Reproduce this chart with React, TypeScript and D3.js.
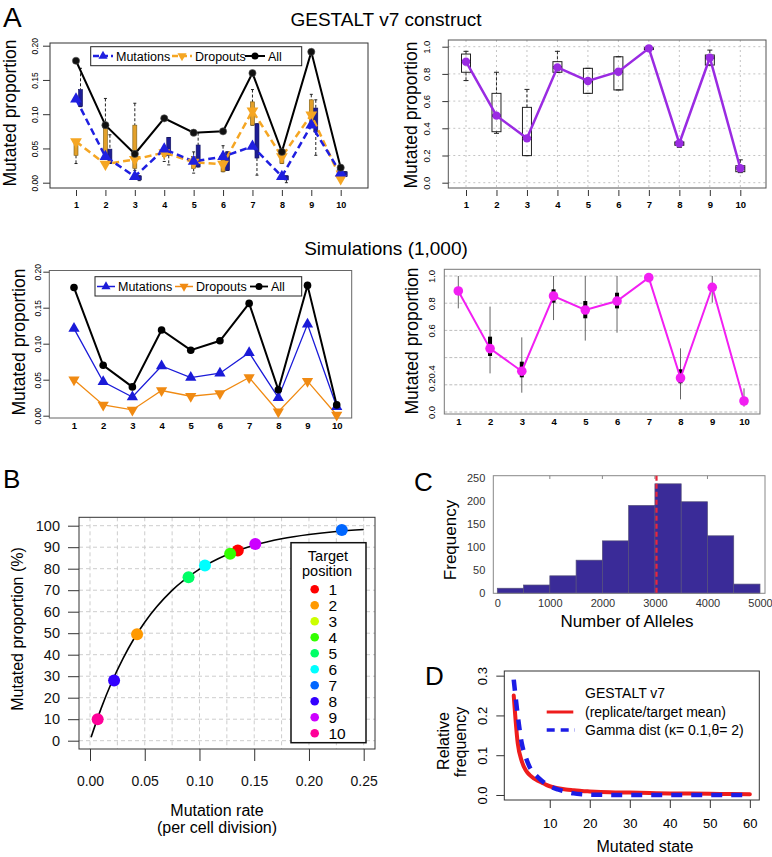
import React, { useEffect, useRef } from "react";
import * as d3 from "d3";

const FONT = "'Liberation Sans', Arial, Helvetica, sans-serif";

const targets = [1, 2, 3, 4, 5, 6, 7, 8, 9, 10];

// A, GESTALT v7 construct: mutated proportion split into mutations / dropouts
const gestaltAll = [0.178, 0.084, 0.042, 0.094, 0.073, 0.075, 0.16, 0.045, 0.191, 0.022];
const gestaltMut = [0.122, 0.038, 0.009, 0.049, 0.031, 0.038, 0.053, 0.009, 0.084, 0.014];
const gestaltDrop = [0.06, 0.027, 0.034, 0.044, 0.03, 0.027, 0.105, 0.038, 0.099, 0.006];
// boxes as [low whisker, q1, q3, high whisker]
const gestaltDropBox = [
  [0.028, 0.04, 0.062, 0.062], [0.027, 0.038, 0.084, 0.123], [0.018, 0.021, 0.084, 0.116],
  [0.031, 0.038, 0.045, 0.045], [0.014, 0.021, 0.038, 0.045], [0.016, 0.016, 0.033, 0.054],
  [0.084, 0.084, 0.118, 0.136], [0.028, 0.028, 0.04, 0.04], [0.087, 0.087, 0.121, 0.129],
  [0.009, 0.011, 0.018, 0.018],
];
const gestaltMutBox = [
  [0.111, 0.111, 0.136, 0.167], [0.028, 0.028, 0.049, 0.07], [0.003, 0.004, 0.01, 0.01],
  [0.026, 0.04, 0.066, 0.066], [0.023, 0.023, 0.055, 0.073], [0.018, 0.018, 0.045, 0.045],
  [0.011, 0.036, 0.086, 0.086], [0.0, 0.004, 0.01, 0.01], [0.04, 0.074, 0.109, 0.121],
  [0.009, 0.009, 0.016, 0.016],
];

// A, GESTALT total mutated proportion per target
const gestaltTotal = [0.89, 0.493, 0.326, 0.848, 0.748, 0.816, 0.988, 0.29, 0.919, 0.106];
const gestaltTotalBox = [
  [0.751, 0.812, 0.946, 0.966], [0.363, 0.375, 0.657, 0.812], [0.199, 0.199, 0.554, 0.686],
  [0.812, 0.812, 0.89, 0.966], [0.657, 0.657, 0.841, 0.841], [0.682, 0.682, 0.926, 0.926],
  [0.98, 0.98, 0.99, 0.99], [0.26, 0.275, 0.3, 0.3], [0.865, 0.865, 0.939, 0.975],
  [0.074, 0.081, 0.125, 0.168],
];

// A, simulations (1,000)
const simAll = [0.178, 0.07, 0.04, 0.119, 0.091, 0.104, 0.156, 0.036, 0.181, 0.015];
const simMut = [0.121, 0.047, 0.026, 0.069, 0.053, 0.059, 0.0875, 0.025, 0.127, 0.0125];
const simDrop = [0.05, 0.015, 0.008, 0.035, 0.027, 0.031, 0.053, 0.0056, 0.048, 0.001];

const simTotal = [0.89, 0.466, 0.3, 0.853, 0.75, 0.816, 0.988, 0.25, 0.917, 0.081];
const simLo = [0.762, 0.284, 0.142, 0.676, 0.525, 0.583, 0.98, 0.093, 0.804, 0.039];
const simHi = [1.0, 0.775, 0.549, 1.0, 1.0, 1.0, 0.995, 0.468, 1.0, 0.174];
const simQ1 = [0.86, 0.412, 0.255, 0.804, 0.689, 0.762, 0.982, 0.211, 0.9, 0.07];
const simQ3 = [0.917, 0.554, 0.37, 0.902, 0.816, 0.877, 0.993, 0.314, 0.93, 0.09];

// B
const targetRate = [0.135, 0.043, null, 0.128, 0.09, 0.105, 0.23, 0.022, 0.151, 0.007];
const targetProp = [88.5, 49.5, null, 87, 76, 81.5, 98, 28, 91.5, 10];
const targetColors = ["#FF0000", "#FF9900", "#CCFF00", "#33FF00", "#00FF66", "#00FFFF", "#0066FF", "#3300FF", "#CC00FF", "#FF0099"];
const curveRate = [0.001, 0.01, 0.02, 0.03, 0.04, 0.05, 0.075, 0.1, 0.125, 0.15, 0.175, 0.2, 0.225, 0.25];
const curveProp = [1.6, 14.8, 27.4, 38.1, 47.3, 55.1, 69.9, 79.8, 86.5, 90.9, 93.9, 95.9, 97.3, 98.2];

// C
const binStarts = [0, 500, 1000, 1500, 2000, 2500, 3000, 3500, 4000, 4500];
const binCounts = [11, 18, 38, 72, 114, 191, 238, 199, 125, 20];
const meanAlleles = 3030;

// D
const stateX = [1, 2, 3, 4, 5, 6, 7, 8, 9, 10, 12, 14, 16, 18, 20, 25, 30, 35, 40, 45, 50, 55, 60];
const gestaltFreq = [0.25, 0.13, 0.085, 0.062, 0.05, 0.042, 0.036, 0.031, 0.026, 0.022, 0.017, 0.014, 0.012, 0.01, 0.009, 0.007, 0.006, 0.005, 0.004, 0.0035, 0.003, 0.0025, 0.002];
const gammaFreq = [0.29, 0.2, 0.13, 0.095, 0.07, 0.055, 0.045, 0.036, 0.028, 0.022, 0.014, 0.008, 0.004, 0.002, 0.001, 0.0003, 0, 0, 0, 0, 0, 0, 0];

function txt(g, x, y, s, size, opts: any = {}) {
  return g.append("text").attr("x", x).attr("y", y).attr("font-size", size)
    .attr("text-anchor", opts.anchor || "start").attr("font-weight", opts.weight || "normal")
    .attr("fill", opts.fill || "#000").text(s);
}

function rotText(g, x, y, s, size, fill = "#000") {
  return g.append("text").attr("transform", `translate(${x},${y}) rotate(-90)`)
    .attr("text-anchor", "middle").attr("dy", "0.35em").attr("font-size", size)
    .attr("fill", fill).text(s);
}

function frame(g, x0, y0, x1, y1, stroke = "#333") {
  g.append("rect").attr("x", x0).attr("y", y0).attr("width", x1 - x0).attr("height", y1 - y0)
    .attr("fill", "none").attr("stroke", stroke).attr("stroke-width", 1);
}

function yAxisRot(g, y, values, xEdge, labelX, fmt, size, tick = 6, color = "#000") {
  const ax = g.append("g").attr("transform", `translate(${xEdge},0)`)
    .call(d3.axisLeft(y).tickValues(values).tickSize(tick).tickFormat(fmt));
  ax.select(".domain").remove();
  ax.attr("font-family", FONT).attr("font-size", size);
  ax.selectAll("line").attr("stroke", "#333");
  ax.selectAll("text").attr("x", null).attr("dy", "0.35em").attr("fill", color)
    .attr("text-anchor", "middle")
    .attr("transform", `translate(${labelX - xEdge},0) rotate(-90)`);
  return ax;
}

function xAxis(g, x, values, yEdge, labelY, size, tick, fmt, weight = "normal", color = "#000") {
  const ax = g.append("g").attr("transform", `translate(0,${yEdge})`)
    .call(d3.axisBottom(x).tickValues(values).tickSize(tick).tickFormat(fmt));
  ax.select(".domain").remove();
  ax.attr("font-family", FONT).attr("font-size", size);
  ax.selectAll("line").attr("stroke", "#333");
  ax.selectAll("text").attr("y", labelY - yEdge).attr("dy", null)
    .attr("font-weight", weight).attr("fill", color);
  return ax;
}

function legendRow(g, x0, y0, items, lineLen, size) {
  items.forEach((it) => {
    g.append("line").attr("x1", it.x).attr("x2", it.x + lineLen).attr("y1", y0).attr("y2", y0)
      .attr("stroke", it.color).attr("stroke-width", it.width).attr("stroke-dasharray", it.dash || null);
    const cx = it.x + lineLen / 2;
    if (it.shape === "circle") {
      g.append("circle").attr("cx", cx).attr("cy", y0).attr("r", 3.5).attr("fill", it.color);
    } else {
      g.append("path").attr("d", d3.symbol(d3.symbolTriangle, 36)())
        .attr("transform", `translate(${cx},${y0}) rotate(${it.shape === "down" ? 180 : 0})`)
        .attr("fill", it.color);
    }
    txt(g, it.x + lineLen + 3, y0 + 4.5, it.label, size);
  });
}

function drawTopLeft(svg) {
  const g = svg.append("g");
  const x = d3.scaleLinear().domain([1, 10]).range([76, 340.7]);
  const y = d3.scaleLinear().domain([0, 0.2]).range([182.7, 45.7]);
  frame(g, 50, 43, 368, 188);
  yAxisRot(g, y, [0, 0.05, 0.1, 0.15, 0.2], 50, 35, d3.format(".2f"), 8.5, 7);
  xAxis(g, x, targets, 190, 208, 9, 6, d3.format("d"), "bold");
  rotText(g, 10, 113, "Mutated proportion", 17.5);

  const bw = 4;
  const drawBoxes = (boxes, dx, fill, stroke) => {
    boxes.forEach((b, i) => {
      const cx = x(targets[i]) + dx;
      const [lo, q1, q3, hi] = b;
      g.append("line").attr("x1", cx).attr("x2", cx).attr("y1", y(hi)).attr("y2", y(q3))
        .attr("stroke", "#222").attr("stroke-dasharray", "3,2");
      g.append("line").attr("x1", cx).attr("x2", cx).attr("y1", y(q1)).attr("y2", y(lo))
        .attr("stroke", "#222").attr("stroke-dasharray", "3,2");
      [lo, hi].forEach((v) => g.append("line").attr("x1", cx - 1.5).attr("x2", cx + 1.5)
        .attr("y1", y(v)).attr("y2", y(v)).attr("stroke", "#222"));
      g.append("rect").attr("x", cx - bw / 2).attr("y", y(q3)).attr("width", bw)
        .attr("height", Math.max(1.5, y(q1) - y(q3))).attr("fill", fill).attr("stroke", stroke).attr("stroke-width", 0.6);
    });
  };
  drawBoxes(gestaltDropBox, 0, "#e3a02a", "#7a5a10");
  drawBoxes(gestaltMutBox, 4.5, "#1d1d96", "#10105a");

  const line = (vals) => d3.line<number>().x((_, i) => x(targets[i])).y((d) => y(d))(vals);
  g.append("path").attr("d", line(gestaltDrop)).attr("fill", "none").attr("stroke", "#f5a623")
    .attr("stroke-width", 2.5).attr("stroke-dasharray", "7,4");
  g.append("path").attr("d", line(gestaltMut)).attr("fill", "none").attr("stroke", "#1f1fe0")
    .attr("stroke-width", 2.5).attr("stroke-dasharray", "7,4");
  g.append("path").attr("d", line(gestaltAll)).attr("fill", "none").attr("stroke", "#000").attr("stroke-width", 2);

  gestaltDrop.forEach((v, i) => g.append("path").attr("d", d3.symbol(d3.symbolTriangle, 60)())
    .attr("transform", `translate(${x(targets[i])},${y(v)}) rotate(180)`).attr("fill", "#f5a623"));
  gestaltMut.forEach((v, i) => g.append("path").attr("d", d3.symbol(d3.symbolTriangle, 60)())
    .attr("transform", `translate(${x(targets[i])},${y(v)})`).attr("fill", "#1f1fe0"));
  gestaltAll.forEach((v, i) => g.append("circle").attr("cx", x(targets[i])).attr("cy", y(v))
    .attr("r", 3.6).attr("fill", "#111").attr("stroke", "#555").attr("stroke-width", 0.6));

  g.append("rect").attr("x", 90.7).attr("y", 46.7).attr("width", 211).attr("height", 19)
    .attr("fill", "#fff").attr("stroke", "#222");
  legendRow(g, 0, 56, [
    { x: 93, label: "Mutations", color: "#1f1fe0", width: 2.5, dash: "6,3", shape: "up" },
    { x: 172, label: "Dropouts", color: "#f5a623", width: 2.5, dash: "6,3", shape: "down" },
    { x: 245, label: "All", color: "#000", width: 2, shape: "circle" },
  ], 20, 12.5);
}

function drawTopRight(svg) {
  const g = svg.append("g");
  const x = d3.scaleLinear().domain([1, 10]).range([466, 740.3]);
  const y = d3.scaleLinear().domain([0, 1]).range([182.7, 46.7]);
  const yt = [0, 0.2, 0.4, 0.6, 0.8, 1.0];
  yt.forEach((v) => g.append("line").attr("x1", 448.3).attr("x2", 766).attr("y1", y(v)).attr("y2", y(v))
    .attr("stroke", "#c4c4c4").attr("stroke-dasharray", "2,3"));
  targets.forEach((t) => g.append("line").attr("x1", x(t)).attr("x2", x(t)).attr("y1", 40).attr("y2", 188)
    .attr("stroke", "#c4c4c4").attr("stroke-dasharray", "2,3"));
  frame(g, 448.3, 40, 766, 188, "#555");
  yAxisRot(g, y, yt, 448.3, 427, d3.format(".1f"), 9.5, 6);
  xAxis(g, x, targets, 190, 208, 9.5, 6, d3.format("d"), "bold");
  rotText(g, 411, 115, "Mutated proportion", 17.5);

  gestaltTotalBox.forEach((b, i) => {
    const cx = x(targets[i]);
    const [lo, q1, q3, hi] = b;
    g.append("line").attr("x1", cx).attr("x2", cx).attr("y1", y(hi)).attr("y2", y(q3))
      .attr("stroke", "#222").attr("stroke-dasharray", "3,2");
    g.append("line").attr("x1", cx).attr("x2", cx).attr("y1", y(q1)).attr("y2", y(lo))
      .attr("stroke", "#222").attr("stroke-dasharray", "3,2");
    [lo, hi].forEach((v) => g.append("line").attr("x1", cx - 2.5).attr("x2", cx + 2.5)
      .attr("y1", y(v)).attr("y2", y(v)).attr("stroke", "#222"));
    g.append("rect").attr("x", cx - 4.5).attr("y", y(q3)).attr("width", 9)
      .attr("height", Math.max(1.5, y(q1) - y(q3))).attr("fill", "none").attr("stroke", "#222").attr("stroke-width", 1);
    g.append("line").attr("x1", cx - 4.5).attr("x2", cx + 4.5).attr("y1", y(gestaltTotal[i])).attr("y2", y(gestaltTotal[i]))
      .attr("stroke", "#111").attr("stroke-width", 2.5);
  });
  const line = d3.line<number>().x((_, i) => x(targets[i])).y((d) => y(d));
  g.append("path").attr("d", line(gestaltTotal)).attr("fill", "none").attr("stroke", "#9a2be2").attr("stroke-width", 2.5);
  gestaltTotal.forEach((v, i) => g.append("circle").attr("cx", x(targets[i])).attr("cy", y(v)).attr("r", 4.2)
    .attr("fill", "#9a2be2"));
}

function drawMidLeft(svg) {
  const g = svg.append("g");
  const x = d3.scaleLinear().domain([1, 10]).range([74, 336.7]);
  const y = d3.scaleLinear().domain([0, 0.2]).range([415.7, 271.7]);
  frame(g, 49.3, 270.5, 351.7, 418, "#666");
  yAxisRot(g, y, [0, 0.05, 0.1, 0.15, 0.2], 49.3, 38.5, d3.format(".2f"), 8.5, 6);
  xAxis(g, x, targets, 418, 429, 9.5, 0, d3.format("d"), "bold");
  rotText(g, 19, 342, "Mutated proportion", 17.5);

  const line = d3.line<number>().x((_, i) => x(targets[i])).y((d) => y(d));
  g.append("path").attr("d", line(simDrop)).attr("fill", "none").attr("stroke", "#f08a12").attr("stroke-width", 1.3);
  g.append("path").attr("d", line(simMut)).attr("fill", "none").attr("stroke", "#1a1ad8").attr("stroke-width", 1.3);
  g.append("path").attr("d", line(simAll)).attr("fill", "none").attr("stroke", "#000").attr("stroke-width", 2);
  simDrop.forEach((v, i) => g.append("path").attr("d", d3.symbol(d3.symbolTriangle, 55)())
    .attr("transform", `translate(${x(targets[i])},${y(v)}) rotate(180)`).attr("fill", "#f08a12"));
  simMut.forEach((v, i) => g.append("path").attr("d", d3.symbol(d3.symbolTriangle, 55)())
    .attr("transform", `translate(${x(targets[i])},${y(v)})`).attr("fill", "#1a1ad8"));
  simAll.forEach((v, i) => g.append("circle").attr("cx", x(targets[i])).attr("cy", y(v)).attr("r", 3.8).attr("fill", "#000"));

  g.append("rect").attr("x", 95).attr("y", 276.7).attr("width", 206.7).attr("height", 19.3)
    .attr("fill", "#fff").attr("stroke", "#222");
  legendRow(g, 0, 286.5, [
    { x: 97, label: "Mutations", color: "#1a1ad8", width: 1.5, shape: "up" },
    { x: 175, label: "Dropouts", color: "#f08a12", width: 1.5, shape: "down" },
    { x: 250, label: "All", color: "#000", width: 1.8, shape: "circle" },
  ], 18, 12.5);
}

function drawMidRight(svg) {
  const g = svg.append("g");
  const x = d3.scaleLinear().domain([1, 10]).range([458.3, 744]);
  const y = d3.scaleLinear().domain([0, 1]).range([412, 276]);
  const yt = [0, 0.2, 0.4, 0.6, 0.8, 1.0];
  yt.forEach((v) => g.append("line").attr("x1", 444.3).attr("x2", 760).attr("y1", y(v)).attr("y2", y(v))
    .attr("stroke", "#bdbdbd").attr("stroke-dasharray", "3,2"));
  frame(g, 444.3, 269.3, 760, 414, "#777");
  const labels = (v) => (v === 0.4 ? "" : v === 0.2 ? "0.20.4" : d3.format(".1f")(v));
  const ax = yAxisRot(g, y, yt, 444.3, 432, labels, 9.5, 0);
  ax.selectAll("text").filter((d) => d === 0.2).attr("transform", `translate(${432 - 444.3},${y(0.25) - y(0.2)}) rotate(-90)`);
  xAxis(g, x, targets, 414, 425, 9.5, 0, d3.format("d"), "bold");
  rotText(g, 412, 341, "Mutated proportion", 17.5);

  targets.forEach((t, i) => {
    const cx = x(t);
    g.append("line").attr("x1", cx).attr("x2", cx).attr("y1", y(simHi[i])).attr("y2", y(simLo[i]))
      .attr("stroke", "#666").attr("stroke-width", 1);
    g.append("rect").attr("x", cx - 2).attr("y", y(simQ3[i])).attr("width", 4)
      .attr("height", y(simQ1[i]) - y(simQ3[i])).attr("fill", "#000");
  });
  const line = d3.line<number>().x((_, i) => x(targets[i])).y((d) => y(d));
  g.append("path").attr("d", line(simTotal)).attr("fill", "none").attr("stroke", "#f21ff2").attr("stroke-width", 2);
  simTotal.forEach((v, i) => g.append("circle").attr("cx", x(targets[i])).attr("cy", y(v)).attr("r", 4.8).attr("fill", "#f21ff2"));
}

function drawB(svg) {
  const g = svg.append("g");
  const x = d3.scaleLinear().domain([0, 0.25]).range([90, 363.7]);
  const y = d3.scaleLinear().domain([0, 100]).range([740.7, 525.7]);
  const x0 = 79, x1 = 375, y0 = 517.3, y1 = 749;
  d3.range(0, 0.2501, 0.025).forEach((v) => g.append("line").attr("x1", x(v)).attr("x2", x(v)).attr("y1", y0).attr("y2", y1)
    .attr("stroke", "#cdcdcd").attr("stroke-dasharray", "4,3"));
  d3.range(0, 101, 10).forEach((v) => g.append("line").attr("x1", x0).attr("x2", x1).attr("y1", y(v)).attr("y2", y(v))
    .attr("stroke", "#cdcdcd").attr("stroke-dasharray", "4,3"));
  frame(g, x0, y0, x1, y1, "#333");

  const ay = g.append("g").attr("transform", `translate(${x0},0)`)
    .call(d3.axisLeft(y).tickValues(d3.range(0, 101, 10)).tickSize(11).tickPadding(8).tickFormat(d3.format("d")));
  ay.select(".domain").remove();
  ay.attr("font-family", FONT).attr("font-size", 14.5);
  ay.selectAll("text").attr("fill", "#111");
  ay.selectAll("line").attr("stroke", "#333");
  const axx = xAxis(g, x, [0, 0.05, 0.1, 0.15, 0.2, 0.25], y1, 786, 14, 12, d3.format(".2f"), "normal", "#111");
  axx.selectAll("line").attr("stroke", "#333");

  rotText(g, 17, 629, "Mutated proportion (%)", 16);
  txt(g, 217, 816, "Mutation rate", 16, { anchor: "middle" });
  txt(g, 217, 833, "(per cell division)", 16, { anchor: "middle" });

  const line = d3.line<number>().x((d) => x(d)).y((_, i) => y(curveProp[i])).curve(d3.curveMonotoneX);
  g.append("path").attr("d", line(curveRate)).attr("fill", "none").attr("stroke", "#000").attr("stroke-width", 1.6);

  targets.forEach((t, i) => {
    if (targetRate[i] == null) return;
    g.append("circle").attr("cx", x(targetRate[i])).attr("cy", y(targetProp[i])).attr("r", 6).attr("fill", targetColors[i]);
  });

  g.append("rect").attr("x", 291).attr("y", 542.7).attr("width", 75).attr("height", 200)
    .attr("fill", "#fff").attr("stroke", "#111").attr("stroke-width", 1.5);
  txt(g, 328, 561, "Target", 14.5, { anchor: "middle" });
  txt(g, 327, 575.5, "position", 14.5, { anchor: "middle" });
  const ly = d3.scalePoint<number>().domain(targets).range([589.3, 733.3]);
  targets.forEach((t, i) => {
    g.append("circle").attr("cx", 314.7).attr("cy", ly(t)).attr("r", 4.3).attr("fill", targetColors[i]);
    txt(g, 328.5, ly(t) + 5.5, String(t), 15.5);
  });
}

function drawC(svg) {
  const g = svg.append("g");
  const x = d3.scaleLinear().domain([0, 5000]).range([497.3, 760]);
  const y = d3.scaleLinear().domain([0, 250]).range([593.3, 478.3]);
  binStarts.forEach((b, i) => {
    g.append("rect").attr("x", x(b)).attr("y", y(binCounts[i])).attr("width", x(b + 500) - x(b))
      .attr("height", y(0) - y(binCounts[i])).attr("fill", "#3a2b98").attr("stroke", "#55507a").attr("stroke-width", 0.7);
  });
  frame(g, 493.3, 475.7, 765, 593.3, "#888");
  const ticks = [1000, 2000, 3000, 4000];
  ticks.forEach((t) => {
    g.append("line").attr("x1", x(t)).attr("x2", x(t)).attr("y1", 475.7).attr("y2", 479).attr("stroke", "#888");
  });
  const ay = g.append("g").attr("transform", "translate(493.3,0)")
    .call(d3.axisLeft(y).tickValues([0, 50, 100, 150, 200, 250]).tickSize(0).tickPadding(8));
  ay.select(".domain").remove();
  ay.attr("font-family", FONT).attr("font-size", 11);
  ay.selectAll("text").attr("fill", "#333");
  xAxis(g, x, [0, 1000, 2000, 3000, 4000, 5000], 593.3, 607, 11, 0, d3.format("d"), "normal", "#333");
  g.append("line").attr("x1", x(meanAlleles)).attr("x2", x(meanAlleles)).attr("y1", 475.7).attr("y2", 593.3)
    .attr("stroke", "#e8283c").attr("stroke-width", 2.2).attr("stroke-dasharray", "5,3");
  rotText(g, 450, 540, "Frequency", 17);
  txt(g, 627, 627, "Number of Alleles", 17, { anchor: "middle" });
}

function drawD(svg) {
  const g = svg.append("g");
  const x = d3.scaleLinear().domain([-1.36, 62.36]).range([504.3, 759.3]);
  const y = d3.scaleLinear().domain([-0.0126, 0.3117]).range([800, 671]);
  frame(g, 504.3, 671, 759.3, 800, "#333");
  yAxisRot(g, y, [0, 0.1, 0.2, 0.3], 504.3, 482, d3.format(".1f"), 13, 8);
  xAxis(g, x, [10, 20, 30, 40, 50, 60], 800, 828, 13, 8, d3.format("d"));
  rotText(g, 443, 741, "Relative", 16);
  rotText(g, 460, 742, "frequency", 16);
  txt(g, 645, 852, "Mutated state", 16, { anchor: "middle" });

  const line = (vals) => d3.line<number>().x((d) => x(d)).y((_, i) => y(vals[i])).curve(d3.curveMonotoneX)(stateX);
  g.append("path").attr("d", line(gestaltFreq)).attr("fill", "none").attr("stroke", "#ee1c1c")
    .attr("stroke-width", 4).attr("stroke-linecap", "round");
  g.append("path").attr("d", line(gammaFreq)).attr("fill", "none").attr("stroke", "#1c1ce6")
    .attr("stroke-width", 4.5).attr("stroke-dasharray", "11,9");

  txt(g, 585, 698, "GESTALT v7", 14);
  txt(g, 585, 717, "(replicate/target mean)", 14);
  txt(g, 585, 735, "Gamma dist (\u03BA= 0.1,\u03B8= 2)", 14);
  g.append("line").attr("x1", 546.7).attr("x2", 573.3).attr("y1", 712).attr("y2", 712)
    .attr("stroke", "#ee1c1c").attr("stroke-width", 3);
  g.append("line").attr("x1", 546.7).attr("x2", 575).attr("y1", 730).attr("y2", 730)
    .attr("stroke", "#1c1ce6").attr("stroke-width", 3.5).attr("stroke-dasharray", "8,6");
}

export default function App() {
  const ref = useRef<SVGSVGElement | null>(null);

  useEffect(() => {
    const svg = d3.select(ref.current);
    svg.selectAll("*").remove();
    svg.append("rect").attr("width", 772).attr("height", 857).attr("fill", "#fff");

    txt(svg, 3, 27, "A", 28);
    txt(svg, 3, 488, "B", 26);
    txt(svg, 414, 491, "C", 26);
    txt(svg, 425, 685, "D", 26);
    txt(svg, 386, 26, "GESTALT v7 construct", 19, { anchor: "middle" });
    txt(svg, 386, 255, "Simulations (1,000)", 19, { anchor: "middle" });

    drawTopLeft(svg);
    drawTopRight(svg);
    drawMidLeft(svg);
    drawMidRight(svg);
    drawB(svg);
    drawC(svg);
    drawD(svg);
  }, []);

  return (
    <svg
      ref={ref}
      width={772}
      height={857}
      style={{ position: "absolute", left: 0, top: 0, fontFamily: FONT }}
    />
  );
}
